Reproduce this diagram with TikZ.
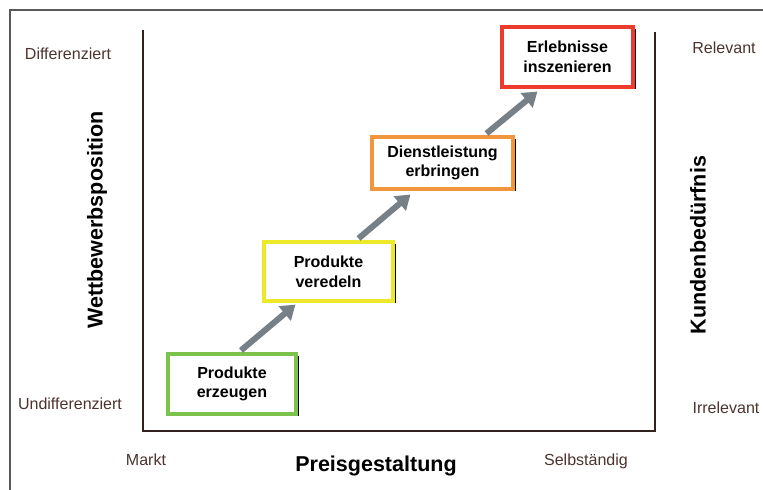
\documentclass[tikz,border=0pt]{standalone}
\usepackage{fontspec}
\setmainfont{Liberation Sans}
\usetikzlibrary{arrows.meta,shadows}
\definecolor{stepgreen}{rgb}{0.49, 0.76, 0.29}
\definecolor{stepyellow}{rgb}{0.93, 0.91, 0.16}
\definecolor{steporange}{rgb}{0.95, 0.59, 0.24}
\definecolor{stepred}{rgb}{0.93, 0.23, 0.18}
\definecolor{arrowgray}{rgb}{0.47, 0.5, 0.53}
\definecolor{labelbrown}{rgb}{0.3, 0.2, 0.18}
\definecolor{axisdark}{rgb}{0.2, 0.13, 0.12}

\begin{document}
\begin{tikzpicture}[
  stepbox/.style={draw, line width=2.2pt, fill=white, align=center, inner sep=0pt,
    font=\fontsize{11.4}{14}\selectfont\bfseries,
    drop shadow={shadow xshift=2pt, shadow yshift=-1.5pt, fill=black, opacity=1}},
  steparrow/.style={arrowgray, line width=4.3pt, -{Triangle[length=10pt,width=13pt]}},
  endlabel/.style={labelbrown, font=\fontsize{11.4}{14}\selectfont},
  axistitle/.style={font=\fontsize{15.3}{18}\selectfont\bfseries}
  ]
\useasboundingbox (0,0) rectangle (19.075,12.25);

\draw[gray!70!black, line width=1.2pt] (0.25,0) -- (0.25,12.0) -- (19.075,12.0);
\draw[axisdark, line width=1pt] (3.575,11.5) -- (3.575,1.475) -- (16.375,1.475) -- (16.375,11.45);

\node[stepbox, draw=stepgreen, minimum width=3.2cm, minimum height=1.5cm]
  (erzeugen) at (5.8,2.65) {Produkte\\erzeugen};
\node[stepbox, draw=stepyellow, minimum width=3.225cm, minimum height=1.475cm]
  (veredeln) at (8.2125,5.4625) {Produkte\\veredeln};
\node[stepbox, draw=steporange, minimum width=3.525cm, minimum height=1.3cm]
  (dienst) at (11.0625,8.175) {Dienstleistung\\erbringen};
\node[stepbox, draw=stepred, minimum width=3.275cm, minimum height=1.5cm]
  (erlebnis) at (14.1875,10.825) {Erlebnisse\\inszenieren};

\draw[steparrow] ([xshift=0.225cm,yshift=0.05cm]erzeugen.north) -- ([xshift=0.825cm,yshift=-0.05cm]veredeln.south west);
\draw[steparrow] ([xshift=0.75cm,yshift=0.05cm]veredeln.north) -- ([xshift=1.0cm,yshift=-0.1cm]dienst.south west);
\draw[steparrow] ([xshift=1.1cm,yshift=0.05cm]dienst.north) -- ([xshift=0.925cm,yshift=-0.075cm]erlebnis.south west);

\node[endlabel] (diff) at (1.7,10.9) {Differenziert};
\node[endlabel] (undiff) at (1.75,2.15) {Undifferenziert};
\node[endlabel] (markt) at (3.65,0.75) {Markt};
\node[endlabel] (selbst) at (14.65,0.72) {Selbständig};
\node[endlabel] (relevant) at (18.1,11.05) {Relevant};
\node[endlabel] (irrelevant) at (18.15,2.05) {Irrelevant};

\node[axistitle] (preis) at (9.4,0.6) {Preisgestaltung};
\node[axistitle, rotate=90] (wettbewerb) at (2.425,6.75) {Wettbewerbsposition};
\node[axistitle, rotate=90] (kunde) at (17.45,6.125) {Kundenbedürfnis};
\end{tikzpicture}
\end{document}
